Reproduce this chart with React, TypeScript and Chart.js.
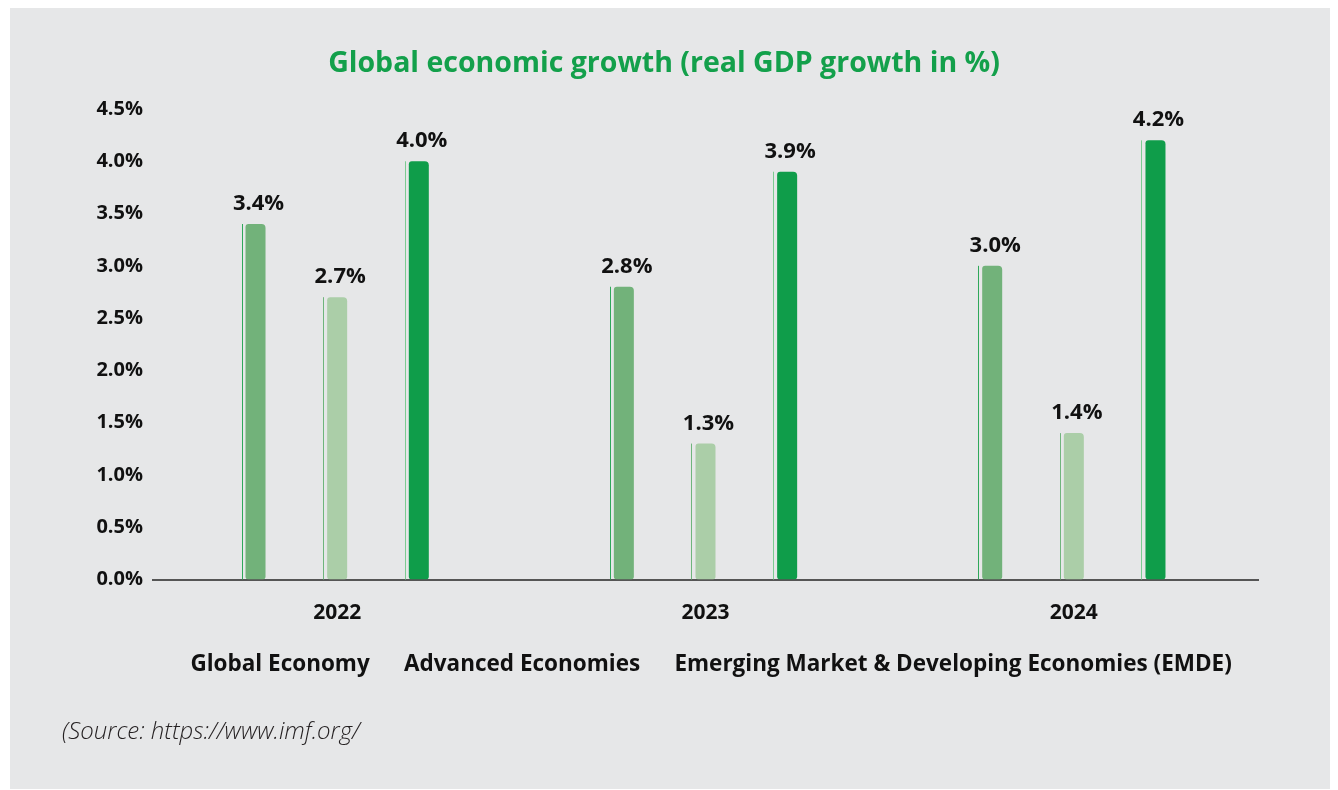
import React, { useEffect, useRef } from "react";
import { Chart, registerables } from "chart.js";

Chart.register(...registerables);

const categories = ["2022", "2023", "2024"];
const seriesNames = [
  "Global Economy",
  "Advanced Economies",
  "Emerging Market & Developing Economies (EMDE)",
];
const globalEconomy = [3.4, 2.8, 3.0];
const advancedEconomies = [2.7, 1.3, 1.4];
const emdeEconomies = [4.0, 3.9, 4.2];
const yTicks = [0, 0.5, 1, 1.5, 2, 2.5, 3, 3.5, 4, 4.5];

const barColors = ["#72b27a", "#abcea8", "#0f9d4a"];
const edgeColors = ["#2fa85a", "#6fb57c", "#7ccb92"];
const FONT = "'Open Sans', 'Noto Sans', sans-serif";

const barDecor = {
  id: "barDecor",
  afterDatasetsDraw(chart: any) {
    const ctx = chart.ctx;
    ctx.save();
    chart.data.datasets.forEach((ds: any, di: number) => {
      const meta = chart.getDatasetMeta(di);
      meta.data.forEach((bar: any, i: number) => {
        const left = bar.x - bar.width / 2;
        ctx.strokeStyle = edgeColors[di];
        ctx.lineWidth = 1;
        ctx.beginPath();
        ctx.moveTo(Math.round(left - 4) + 0.5, bar.y);
        ctx.lineTo(Math.round(left - 4) + 0.5, bar.base);
        ctx.stroke();
        ctx.fillStyle = "#111111";
        ctx.font = `bold 22px ${FONT}`;
        ctx.textAlign = "center";
        ctx.textBaseline = "alphabetic";
        ctx.fillText(ds.data[i].toFixed(1) + "%", bar.x + 3, bar.y - 14);
      });
    });
    ctx.restore();
  },
};

export default function App() {
  const ref = useRef<HTMLCanvasElement | null>(null);
  useEffect(() => {
    if (!ref.current) return;
    const seriesData = [globalEconomy, advancedEconomies, emdeEconomies];
    const chart = new Chart(ref.current, {
      type: "bar",
      data: {
        labels: categories,
        datasets: seriesNames.map((name, i) => ({
          label: name,
          data: seriesData[i],
          backgroundColor: barColors[i],
          borderWidth: 0,
          borderRadius: { topLeft: 3, topRight: 4, bottomLeft: 3, bottomRight: 3 },
          borderSkipped: false,
          categoryPercentage: 0.665,
          barPercentage: 0.245,
        })),
      },
      options: {
        animation: false,
        responsive: true,
        maintainAspectRatio: false,
        layout: { padding: { left: 0, right: 16, top: 0, bottom: 103.6 } },
        plugins: {
          title: {
            display: true,
            text: "Global economic growth (real GDP growth in %)",
            color: "#13a04b",
            font: { family: FONT, size: 28.5, weight: "bold" },
            padding: { top: 39.1, bottom: 27.7 },
          },
          legend: {
            position: "bottom",
            fullSize: false,
            labels: {
              boxWidth: 0,
              boxHeight: 0,
              padding: 23,
              color: "#111111",
              font: { family: FONT, size: 22.5, weight: "bold" },
            },
          },
          tooltip: { enabled: false },
        },
        scales: {
          x: {
            grid: { display: false, drawTicks: false },
            border: { display: true, color: "#555555", width: 2 },
            ticks: {
              padding: 20.6,
              color: "#111111",
              font: { family: FONT, size: 21, weight: "bold" },
            },
            afterFit(scale: any) {
              scale.height -= 16;
            },
          },
          y: {
            min: 0,
            max: 4.5,
            grid: { display: false, drawTicks: false },
            border: { display: false },
            afterBuildTicks(scale: any) {
              scale.ticks = yTicks.map((v) => ({ value: v }));
            },
            afterFit(scale: any) {
              scale.width = 143;
            },
            ticks: {
              padding: 10,
              color: "#111111",
              font: { family: FONT, size: 20, weight: "bold" },
              callback: (v: any) => Number(v).toFixed(1) + "%",
            },
          },
          yRight: {
            position: "right",
            min: 0,
            max: 4.5,
            grid: { display: false, drawTicks: false },
            border: { display: false },
            ticks: { display: false },
            afterFit(scale: any) {
              scale.width = 60;
            },
          },
        },
      },
      plugins: [barDecor],
    });
    return () => chart.destroy();
  }, []);

  return (
    <div
      style={{
        position: "relative",
        marginLeft: 2,
        width: 1324,
        height: 781,
        background: "#e6e7e8",
      }}
    >
      <div style={{ position: "absolute", left: 0, top: 0, width: 1324, height: 781 }}>
        <canvas ref={ref} />
      </div>
      <div
        style={{
          position: "absolute",
          left: 52,
          top: 705,
          fontFamily: FONT,
          fontStyle: "italic",
          fontWeight: 300,
          fontSize: 24,
          color: "#231f20",
          whiteSpace: "nowrap",
        }}
      >
        (Source: https://www.imf.org/
      </div>
    </div>
  );
}
